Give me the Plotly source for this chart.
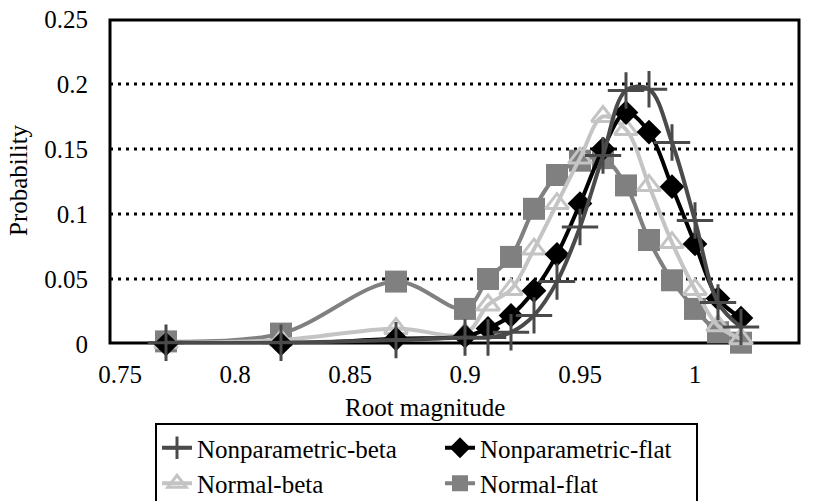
import plotly.graph_objects as go

# ---- data ----
root_magnitude = [0.77, 0.82, 0.87, 0.90, 0.91, 0.92, 0.93, 0.94, 0.95, 0.96,
                  0.97, 0.98, 0.99, 1.00, 1.01, 1.02]
nonparametric_beta = [0.001, 0.001, 0.003, 0.005, 0.005, 0.009, 0.022, 0.048, 0.090, 0.145,
                      0.195, 0.196, 0.155, 0.095, 0.032, 0.013]
nonparametric_flat = [0.000, 0.000, 0.004, 0.006, 0.012, 0.022, 0.041, 0.069, 0.108, 0.150,
                      0.178, 0.163, 0.121, 0.077, 0.035, 0.020]
normal_beta = [0.001, 0.003, 0.012, 0.008, 0.030, 0.042, 0.073, 0.108, 0.143, 0.175,
               0.165, 0.122, 0.078, 0.042, 0.014, 0.004]
normal_flat = [0.002, 0.008, 0.048, 0.027, 0.050, 0.067, 0.104, 0.130, 0.141, 0.143,
               0.122, 0.080, 0.049, 0.027, 0.009, 0.001]

x_ticks = [0.75, 0.8, 0.85, 0.9, 0.95, 1.0, 1.05]
x_tick_text = ["0.75", "0.8", "0.85", "0.9", "0.95", "1", "1.05"]
y_ticks = [0, 0.05, 0.1, 0.15, 0.2, 0.25]
y_tick_text = ["0", "0.05", "0.1", "0.15", "0.2", "0.25"]
grid_levels = [0.05, 0.1, 0.15, 0.2]

FONT = "Liberation Serif, Times New Roman, serif"
W, H = 827, 501
# plot area in page pixels: x 120..810, y 19..344
L, R, T, B = 120, 17, 19, 157
PW = W - L - R
PH = H - T - B

def px_to_paper_x(px):
    return (px - L) / PW

def py_to_paper_y(py):
    return (H - B - py) / PH

fig = go.Figure()

series = [
    ("Normal-flat", normal_flat, "#808080", dict(symbol="square", size=22, color="#808080"), 4, 211),
    ("Normal-beta", normal_beta, "#c4c4c4",
     dict(symbol="triangle-up-open", size=20, color="#c4c4c4", line=dict(width=3, color="#c4c4c4")), 3, 238),
    ("Nonparametric-flat", nonparametric_flat, "#000000",
     dict(symbol="diamond", size=19, color="#000000"), 2, 211),
    ("Nonparametric-beta", nonparametric_beta, "#4a4a4a",
     dict(symbol="cross-thin", size=26, color="#4a4a4a", line=dict(width=3, color="#4a4a4a")), 1, 238),
]

for name, vals, col, mk, rank, lw in series:
    fig.add_trace(go.Scatter(
        x=root_magnitude, y=vals, name=name, mode="lines+markers",
        line=dict(color=col, width=4, shape="spline", smoothing=1.0),
        marker=mk, cliponaxis=False, legendrank=rank, legendwidth=lw,
    ))

shapes = []
for g in grid_levels:
    shapes.append(dict(type="line", xref="paper", yref="y",
                       x0=px_to_paper_x(110), x1=px_to_paper_x(799), y0=g, y1=g,
                       line=dict(color="black", width=3, dash="3px,5px"), layer="below"))
shapes.append(dict(type="rect", xref="paper", yref="paper",
                   x0=px_to_paper_x(110), x1=px_to_paper_x(799),
                   y0=py_to_paper_y(343), y1=py_to_paper_y(20),
                   line=dict(color="black", width=3), fillcolor="rgba(0,0,0,0)", layer="below"))

fig.update_layout(
    width=W, height=H,
    margin=dict(l=L, r=R, t=T, b=B, autoexpand=False),
    paper_bgcolor="white", plot_bgcolor="white",
    font=dict(family=FONT, size=25, color="black"),
    showlegend=True,
    xaxis=dict(range=[0.75, 1.05], tickvals=x_ticks, ticktext=x_tick_text,
               showgrid=False, zeroline=False, showline=False, ticks="",
               ticklabelstandoff=13, tickfont=dict(family=FONT, size=25, color="black")),
    yaxis=dict(range=[0, 0.25], tickvals=y_ticks, ticktext=y_tick_text,
               showgrid=False, zeroline=False, showline=False, ticks="",
               ticklabelstandoff=31, tickfont=dict(family=FONT, size=25, color="black")),
    legend=dict(orientation="h", x=px_to_paper_x(155), xanchor="left",
                y=py_to_paper_y(423), yanchor="top",
                bordercolor="black", borderwidth=2, bgcolor="white",
                entrywidthmode="pixels",
                font=dict(family=FONT, size=25, color="black"),
                traceorder="normal", itemsizing="trace", tracegroupgap=0),
    shapes=shapes,
    annotations=[
        dict(text="Root magnitude", xref="paper", yref="paper",
             x=px_to_paper_x(425), y=py_to_paper_y(407), xanchor="center", yanchor="middle",
             showarrow=False, font=dict(family=FONT, size=25, color="black")),
        dict(text="Probability", xref="paper", yref="paper", textangle=-90,
             x=px_to_paper_x(18), y=py_to_paper_y(180), xanchor="center", yanchor="middle",
             showarrow=False, font=dict(family=FONT, size=25, color="black")),
    ],
)

# remove the default page margin so the figure fills the 827x501 window exactly
fig.write_html("out.html", config={"displayModeBar": False},
               post_script="document.body.style.margin='0px';")
